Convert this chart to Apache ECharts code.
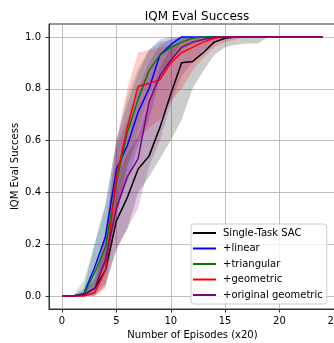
<!DOCTYPE html>
<html><head><meta charset="utf-8">
<script src="https://cdn.jsdelivr.net/npm/echarts@6/dist/echarts.min.js"></script>
<style>html,body{margin:0;padding:0;background:#fff}#c{width:334px;height:343px}</style>
</head><body><div id="c"></div>
<script>
const episodes = [0,1,2,3,4,5,6,7,8,9,10,11,12,13,14,15,16,17,18,19,20,21,22,23,24];
const xTicks = [0,5,10,15,20,25];
const yTicks = [0,0.2,0.4,0.6,0.8,1.0];

const sacMean = [0,0,0.005,0.03,0.1,0.29,0.38,0.49,0.54,0.65,0.78,0.9,0.905,0.94,0.98,0.995,1,1,1,1,1,1,1,1,1];
const sacLow  = [0,0,0,0,0.04,0.18,0.26,0.4,0.46,0.53,0.6,0.68,0.8,0.87,0.93,0.96,0.97,0.975,0.975,1,1,1,1,1,1];
const sacHigh = [0,0,0.01,0.07,0.2,0.45,0.55,0.62,0.75,0.88,0.96,0.995,1,1,1,1,1,1,1,1,1,1,1,1,1];

const linMean = [0,0,0.01,0.11,0.23,0.49,0.58,0.71,0.8,0.93,0.97,1,1,1,1,1,1,1,1,1,1,1,1,1,1];
const linLow  = [0,0,0,0.04,0.12,0.33,0.44,0.58,0.68,0.84,0.92,0.98,1,1,1,1,1,1,1,1,1,1,1,1,1];
const linHigh = [0,0,0.03,0.2,0.35,0.6,0.74,0.86,0.95,0.99,1,1,1,1,1,1,1,1,1,1,1,1,1,1,1];

const triMean = [0,0,0.005,0.09,0.19,0.44,0.63,0.76,0.87,0.93,0.96,0.98,0.995,1,1,1,1,1,1,1,1,1,1,1,1];
const triLow  = [0,0,0,0.03,0.1,0.3,0.5,0.64,0.77,0.86,0.91,0.95,0.97,0.985,1,1,1,1,1,1,1,1,1,1,1];
const triHigh = [0,0,0.06,0.2,0.36,0.6,0.77,0.88,0.95,0.98,0.99,1,1,1,1,1,1,1,1,1,1,1,1,1,1];

const geoMean = [0,0,0,0.013,0.1,0.46,0.65,0.81,0.82,0.835,0.9,0.94,0.96,0.98,0.995,1,1,1,1,1,1,1,1,1,1];
const geoLow  = [0,0,0,0,0.03,0.3,0.5,0.6,0.65,0.68,0.75,0.8,0.87,0.92,0.96,0.98,0.99,1,1,1,1,1,1,1,1];
const geoHigh = [0,0,0,0.03,0.25,0.6,0.8,0.94,0.95,0.96,0.97,0.98,0.99,1,1,1,1,1,1,1,1,1,1,1,1];

const ogMean = [0,0,0.005,0.03,0.14,0.34,0.46,0.53,0.75,0.85,0.91,0.96,0.98,0.99,1,1,1,1,1,1,1,1,1,1,1];
const ogLow  = [0,0,0,0.005,0.05,0.18,0.26,0.34,0.5,0.6,0.74,0.85,0.9,0.95,0.98,1,1,1,1,1,1,1,1,1,1];
const ogHigh = [0,0,0.01,0.07,0.25,0.58,0.68,0.8,0.9,0.97,0.99,1,1,1,1,1,1,1,1,1,1,1,1,1,1];

const seriesDefs = [
  {name:'Single-Task SAC', mean:sacMean, lo:sacLow, hi:sacHigh, color:'#000000', fill:'rgba(0,0,0,0.2)'},
  {name:'+linear', mean:linMean, lo:linLow, hi:linHigh, color:'#0000ff', fill:'rgba(0,0,255,0.2)'},
  {name:'+triangular', mean:triMean, lo:triLow, hi:triHigh, color:'#008000', fill:'rgba(0,128,0,0.2)'},
  {name:'+geometric', mean:geoMean, lo:geoLow, hi:geoHigh, color:'#ff0000', fill:'rgba(255,0,0,0.2)'},
  {name:'+original geometric', mean:ogMean, lo:ogLow, hi:ogHigh, color:'#800080', fill:'rgba(128,0,128,0.2)'}
];

const FONT = 'DejaVu Sans';
const series = [];
seriesDefs.forEach((d, i) => {
  series.push({
    name: 'band' + i, type: 'custom', silent: true, clip: true, z: 1,
    data: episodes.map((x, k) => [x, d.lo[k], d.hi[k]]),
    encode: {x: 0, y: [1, 2]},
    renderItem: function (params, api) {
      if (params.dataIndex !== 0) return null;
      const upper = [], lower = [];
      for (let k = 0; k < episodes.length; k++) {
        upper.push(api.coord([episodes[k], d.hi[k]]));
        lower.push(api.coord([episodes[k], d.lo[k]]));
      }
      const pts = upper.concat(lower.reverse());
      return {
        type: 'polygon',
        shape: {points: pts},
        style: {fill: d.fill, stroke: null}
      };
    }
  });
});
seriesDefs.forEach((d, i) => {
  series.push({
    name: d.name, type: 'line', symbol: 'none',
    data: episodes.map((x, k) => [x, d.mean[k]]),
    lineStyle: {color: d.color, width: 1.5}, itemStyle: {color: d.color}, z: 3 + i
  });
});

const chart = echarts.init(document.getElementById('c'), null, {renderer: 'canvas'});
chart.setOption({
  animation: false,
  backgroundColor: '#ffffff',
  textStyle: {fontFamily: FONT},
  title: {
    text: 'IQM Eval Success', left: 192, top: 6, textAlign: 'center',
    textStyle: {fontFamily: FONT, fontSize: 12, fontWeight: 'normal', color: '#000'}
  },
  grid: {left: 49, top: 24, right: -2, bottom: 34, show: true, borderColor: '#333', borderWidth: 1,
    backgroundColor: 'transparent', outerBoundsMode: 'none', containLabel: false},
  xAxis: {
    type: 'value', min: -1.2, max: 25.2,
    name: 'Number of Episodes (x20)', nameLocation: 'middle', nameGap: 21, nameMoveOverlap: false,
    nameTextStyle: {fontFamily: FONT, fontSize: 10, color: '#000'},
    axisLine: {show: true, onZero: false, lineStyle: {color: '#333'}},
    axisTick: {show: true, length: 3.5, customValues: xTicks, lineStyle: {color: '#333'}},
    axisLabel: {customValues: xTicks, fontFamily: FONT, fontSize: 10, color: '#000', margin: 7},
    splitLine: {show: true, lineStyle: {color: '#b0b0b0', width: 0.8}}
  },
  yAxis: {
    type: 'value', min: -0.05, max: 1.05,
    name: 'IQM Eval Success', nameLocation: 'middle', nameGap: 29, nameRotate: 90, nameMoveOverlap: false,
    nameTextStyle: {fontFamily: FONT, fontSize: 10, color: '#000'},
    axisLine: {show: true, onZero: false, lineStyle: {color: '#333'}},
    axisTick: {show: true, length: 3.5, customValues: yTicks, lineStyle: {color: '#333'}},
    axisLabel: {customValues: yTicks, fontFamily: FONT, fontSize: 10, color: '#000', margin: 8,
      formatter: v => v.toFixed(1)},
    splitLine: {show: true, lineStyle: {color: '#b0b0b0', width: 0.8}}
  },
  legend: {
    data: seriesDefs.map(d => ({name: d.name, icon: 'rect'})),
    orient: 'vertical', left: 191, top: 224,
    padding: [3, 4, 3, 2],
    itemWidth: 23, itemHeight: 2, itemGap: 3.5,
    backgroundColor: 'rgba(255,255,255,0.8)', borderColor: '#cccccc', borderWidth: 1, borderRadius: 3,
    textStyle: {fontFamily: FONT, fontSize: 10, color: '#000', lineHeight: 12, padding: [0, 0, 0, 2]}
  },
  series: series
});
</script>
</body></html>
